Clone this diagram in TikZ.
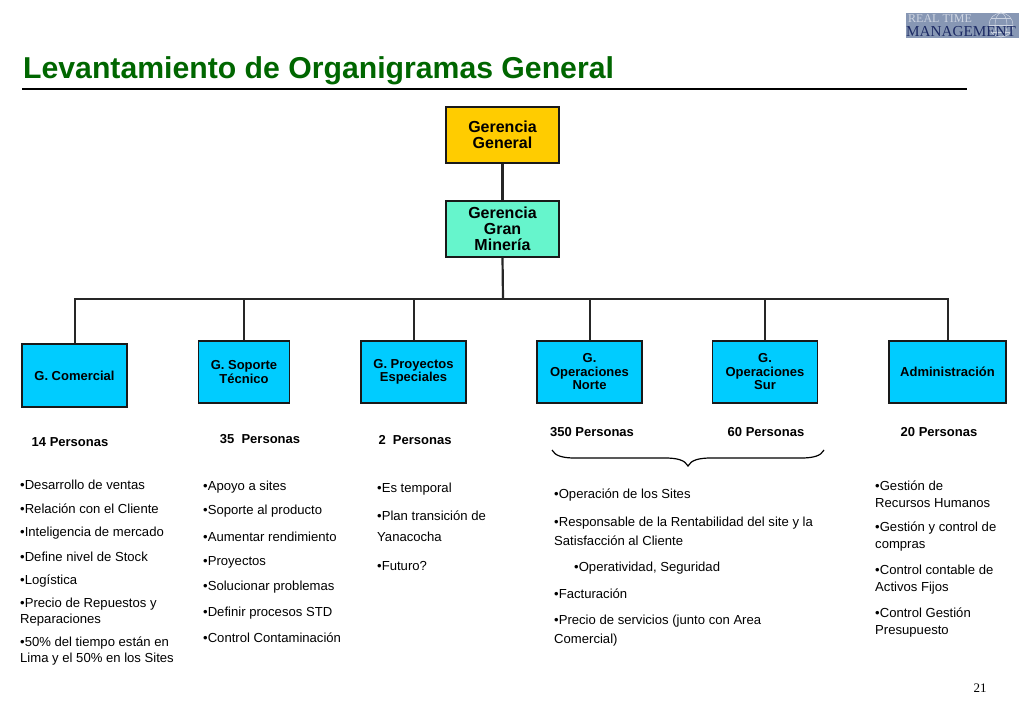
\documentclass[tikz,border=0pt]{standalone}
\usepackage{fontspec}
\setmainfont{Liberation Sans}
\newfontfamily\serifx{Liberation Serif}
\definecolor{gold}{RGB}{255,204,0}
\definecolor{mint}{RGB}{102,245,204}
\definecolor{sky}{RGB}{0,204,255}
\definecolor{logobg}{RGB}{135,151,180}
\definecolor{logotop}{RGB}{205,212,225}
\definecolor{logonavy}{RGB}{28,42,100}
\definecolor{titlegreen}{RGB}{0,102,0}
\tikzset{
 topbox/.style={draw=black!90,line width=1.1pt,minimum width=113pt,minimum height=56pt,inner sep=0pt,align=center,font=\fontsize{16}{16}\selectfont\bfseries},
 unitbox/.style={draw=black!90,line width=1.1pt,fill=sky,minimum width=105pt,minimum height=62pt,inner sep=0pt,align=center,font=\fontsize{13}{13.5}\selectfont\bfseries},
 conn/.style={draw=black!85,line width=2pt},
 count/.style={inner sep=0pt,font=\fontsize{13}{14}\selectfont\bfseries},
 item/.style={anchor=west,inner sep=0pt,align=left,font=\fontsize{13.1}{16}\selectfont},
}
\begin{document}
\begin{tikzpicture}[x=1pt,y=-1pt]
\useasboundingbox (0,0) rectangle (1024,709);
% logo
\fill[logobg] (906,13) rectangle (1019,38);
\begin{scope}[draw=logotop,line width=0.5pt]
\draw (1001,25) circle (12);
\draw (1001,25) ellipse (6 and 12);
\draw (989,25) -- (1013,25);
\draw (991,18) -- (1011,18);
\draw (991,32) -- (1011,32);
\end{scope}
\node[anchor=west,inner sep=0pt,text=logotop,font=\serifx\fontsize{12}{12}\selectfont] (logoa) at (908,18.5) {REAL TIME};
\node[anchor=west,inner sep=0pt,text=logonavy,font=\serifx\fontsize{15.2}{15.2}\selectfont] (logob) at (906,32) {MANAGEMENT};
% title
\node[anchor=west,inner sep=0pt,text=titlegreen,font=\fontsize{30.2}{32}\selectfont\bfseries] (title) at (23,71) {Levantamiento de Organigramas General};
\coordinate (ruleL) at (22,89); \coordinate (ruleR) at (967,89);
\draw[line width=2.6pt] (ruleL) -- (ruleR);
% boxes
\node[topbox,fill=gold] (gg) at (502.5,135) {Gerencia\\General};
\node[topbox,fill=mint] (gm) at (502.5,229) {Gerencia\\Gran\\Minería};
\node[unitbox,minimum height=63pt] (gc) at (74.5,375.5) {G. Comercial};
\node[unitbox,minimum width=91pt] (gs) at (244,372) {G. Soporte\\Técnico};
\node[unitbox] (gp) at (413.5,372) {G. Proyectos\\Especiales};
\node[unitbox] (gn) at (589.5,372) {G.\\Operaciones\\Norte};
\node[unitbox] (gu) at (765,372) {G.\\Operaciones\\Sur};
\node[unitbox,minimum width=117pt] (ad) at (947.5,372) {Administración};
% connectors
\coordinate (bus) at (503,299);
\draw[conn,line width=2.2pt] (gg) -- (gm);
\draw[conn,line width=2.2pt] (gm.south) -- (bus);
\draw[conn] (gc.north) |- (bus);
\draw[conn] (gs.north) |- (bus);
\draw[conn] (gp.north) |- (bus);
\draw[conn] (gn.north) |- (bus);
\draw[conn] (gu.north) |- (bus);
\draw[conn] (ad.north) |- (bus);
% counts
\node[count] (c1) at (70,442.5) {14 Personas};
\node[count] (c2) at (260,439.5) {35\ \ Personas};
\node[count] (c3) at (415,440.5) {2\ \ Personas};
\node[count] (c4) at (592,432.5) {350 Personas};
\node[count] (c5) at (766,432.5) {60 Personas};
\node[count] (c6) at (939,432.5) {20 Personas};
% brace
\coordinate (bl) at (552,450); \coordinate (br) at (824,450); \coordinate (bt) at (688,466);
\draw[line width=1.2pt] (bl) .. controls (555,456) and (563,458) .. (575,458)
  -- (665,458) .. controls (677,458) and (685,460) .. (bt)
  .. controls (691,460) and (699,458) .. (711,458) -- (801,458)
  .. controls (813,458) and (821,456) .. (br);
% lists
\node[item] (a1) at (20,485) {•Desarrollo de ventas};
\node[item] (a2) at (20,509) {•Relación con el Cliente};
\node[item] (a3) at (20,533) {•Inteligencia de mercado};
\node[item] (a4) at (20,556.5) {•Define nivel de Stock};
\node[item] (a5) at (20,581.5) {•Logística};
\node[item] (a6) at (20,612) {•Precio de Repuestos y\\Reparaciones};
\node[item] (a7) at (20,651) {•50\% del tiempo están en\\Lima y el 50\% en los Sites};
\node[item] (b1) at (203,487) {•Apoyo a sites};
\node[item] (b2) at (203,511.5) {•Soporte al producto};
\node[item] (b3) at (203,536.5) {•Aumentar rendimiento};
\node[item] (b4) at (203,562.5) {•Proyectos};
\node[item] (b5) at (203,587) {•Solucionar problemas};
\node[item] (b6) at (203,613) {•Definir procesos STD};
\node[item] (b7) at (203,637.5) {•Control Contaminación};
\node[item] (d1) at (377,489) {•Es temporal};
\node[item,font=\fontsize{13.1}{21}\selectfont] (d2) at (377,526.5) {•Plan transición de\\Yanacocha};
\node[item] (d3) at (377,565.5) {•Futuro?};
\node[item] (e1) at (554,495.5) {•Operación de los Sites};
\node[item,font=\fontsize{13.1}{19}\selectfont] (e2) at (554,531) {•Responsable de la Rentabilidad del site y la\\Satisfacción al Cliente};
\node[item] (e3) at (574,568) {•Operatividad, Seguridad};
\node[item] (e4) at (554,594) {•Facturación};
\node[item,font=\fontsize{13.1}{19}\selectfont] (e5) at (554,631) {•Precio de servicios (junto con Area\\Comercial)};
\node[item,font=\fontsize{13.1}{17}\selectfont] (f1) at (875,494) {•Gestión de\\Recursos Humanos};
\node[item,font=\fontsize{13.1}{17}\selectfont] (f2) at (875,537) {•Gestión y control de\\compras};
\node[item,font=\fontsize{13.1}{17}\selectfont] (f3) at (875,580) {•Control contable de\\Activos Fijos};
\node[item,font=\fontsize{13.1}{17}\selectfont] (f4) at (875,623) {•Control Gestión\\Presupuesto};
% page number
\node[inner sep=0pt,font=\serifx\fontsize{13}{13}\selectfont] (pg) at (980,688) {21};
\end{tikzpicture}
\end{document}
